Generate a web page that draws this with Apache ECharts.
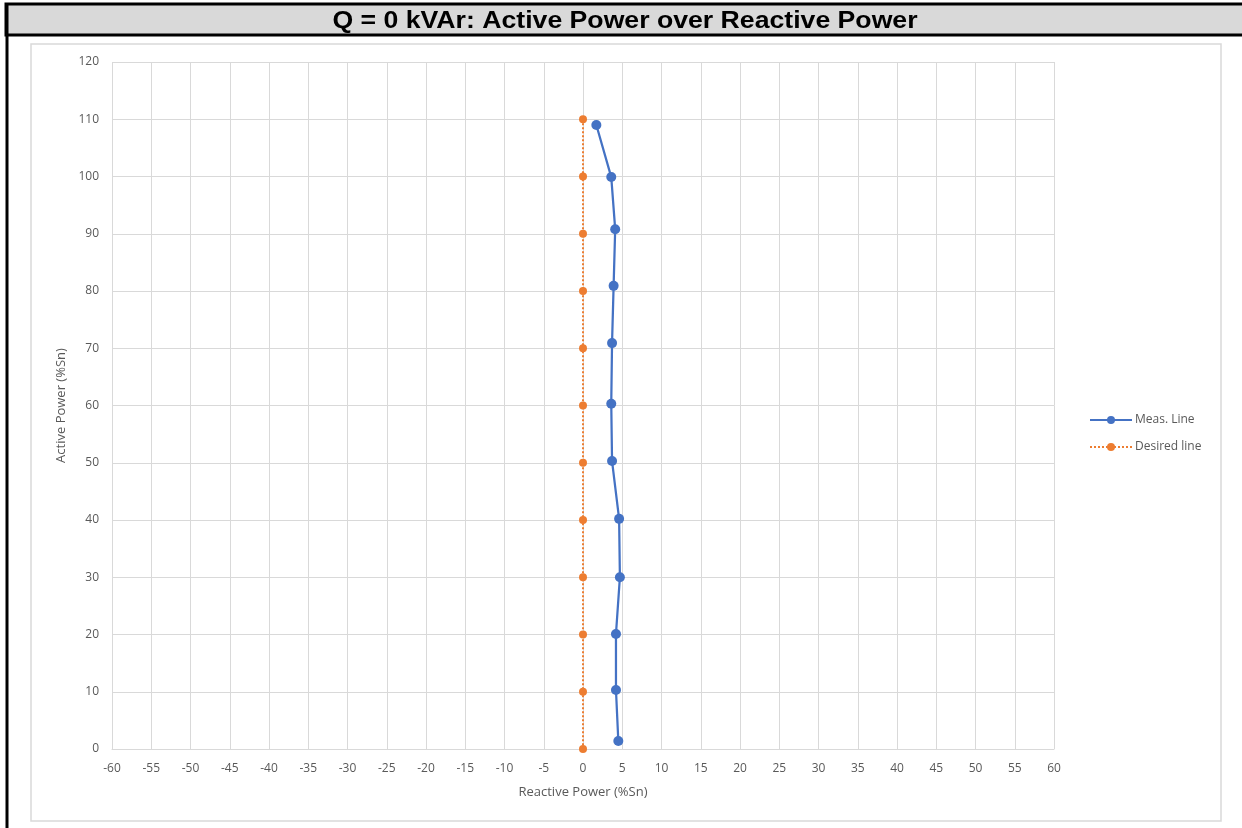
<!DOCTYPE html>
<html>
<head>
<meta charset="utf-8">
<script src="https://cdn.jsdelivr.net/npm/echarts@6/dist/echarts.min.js"></script>
<style>
  html, body { margin: 0; padding: 0; background: #fff; }
  #chart { width: 1242px; height: 828px; }
</style>
</head>
<body>
<div id="chart"></div>
<script>
// measured line: reactive power (%Sn) vs active power (%Sn)
const measQ = [1.7, 3.6, 4.1, 3.9, 3.7, 3.6, 3.7, 4.6, 4.7, 4.2, 4.2, 4.5]
const measP = [109.0, 99.9, 90.8, 80.9, 70.9, 60.3, 50.3, 40.2, 30.0, 20.1, 10.3, 1.4]
// desired line: Q = 0 at every step
const desiredQ = [0, 0, 0, 0, 0, 0, 0, 0, 0, 0, 0, 0]
const desiredP = [110, 100, 90, 80, 70, 60, 50, 40, 30, 20, 10, 0]

const chartTitle = 'Q = 0 kVAr: Active Power over Reactive Power'

const chart = echarts.init(document.getElementById('chart'))

const pair = (xs, ys) => xs.map((x, i) => [x, ys[i]])

const axisText = { color: '#595959', fontSize: 12, fontFamily: 'Open Sans' }

const option = {
  animation: false,
  backgroundColor: '#fff',
  graphic: [
    // grey title bar with black rules
    { type: 'rect', z: -10, shape: { x: 6, y: 4, width: 1240, height: 31 },
      style: { fill: '#d9d9d9', stroke: '#000', lineWidth: 3 } },
    { type: 'line', z: -10, shape: { x1: 7, y1: 4, x2: 7, y2: 828 },
      style: { stroke: '#000', lineWidth: 3 } },
    // title text, a little stretched like the original
    { type: 'text', z: 10, x: 625, y: 21, scaleX: 1.11,
      style: { text: chartTitle, fill: '#000', align: 'center', verticalAlign: 'middle',
               font: 'bold 24px "Liberation Sans", Arial, sans-serif' } },
    // chart area frame
    { type: 'rect', z: -10, shape: { x: 31, y: 44, width: 1190, height: 777 },
      style: { fill: '#fff', stroke: '#d9d9d9', lineWidth: 1.5 } }
  ],
  legend: {
    orient: 'vertical',
    left: 1084,
    top: 409,
    itemWidth: 42,
    itemHeight: 10,
    itemGap: 15,
    textStyle: { color: '#595959', fontSize: 12, fontFamily: 'Open Sans', padding: [0, 0, 0, -2] },
    data: ['Meas. Line', 'Desired line']
  },
  grid: { left: 112, right: 188, top: 62, bottom: 79 },
  xAxis: {
    type: 'value',
    min: -60,
    max: 60,
    interval: 5,
    name: 'Reactive Power (%Sn)',
    nameLocation: 'middle',
    nameGap: 37,
    nameTextStyle: { color: '#595959', fontSize: 13, fontFamily: 'Open Sans' },
    axisLine: { onZero: false, lineStyle: { color: '#d9d9d9' } },
    axisTick: { show: false },
    axisLabel: Object.assign({ margin: 14 }, axisText),
    splitLine: { lineStyle: { color: '#d9d9d9', width: 1 } }
  },
  yAxis: {
    type: 'value',
    min: 0,
    max: 120,
    interval: 10,
    name: 'Active Power (%Sn)',
    nameLocation: 'middle',
    nameGap: 44,
    nameTextStyle: { color: '#595959', fontSize: 13, fontFamily: 'Open Sans' },
    axisLine: { show: true, lineStyle: { color: '#d9d9d9' } },
    axisTick: { show: false },
    axisLabel: Object.assign({ margin: 13 }, axisText),
    splitLine: { lineStyle: { color: '#d9d9d9', width: 1 } }
  },
  series: [
    {
      name: 'Meas. Line',
      type: 'line',
      data: pair(measQ, measP),
      symbol: 'circle',
      symbolSize: 10,
      lineStyle: { color: '#4472c4', width: 2.25 },
      itemStyle: { color: '#4472c4' },
      z: 3
    },
    {
      name: 'Desired line',
      type: 'line',
      data: pair(desiredQ, desiredP),
      symbol: 'circle',
      symbolSize: 8,
      lineStyle: { color: '#ed7d31', width: 2, type: [2, 2] },
      itemStyle: { color: '#ed7d31' },
      z: 2
    }
  ]
}

chart.setOption(option)
</script>
</body>
</html>
